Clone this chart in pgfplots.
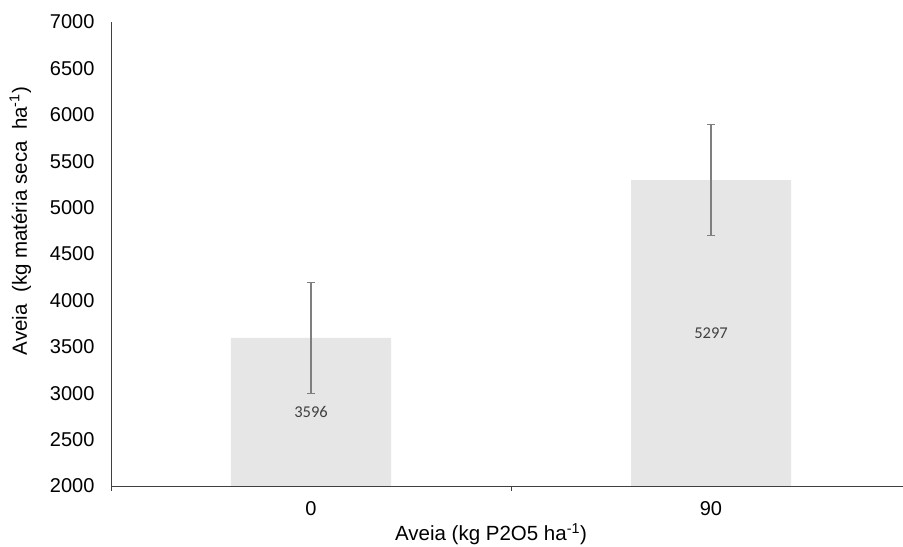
\documentclass[border=0pt]{standalone}
\usepackage{pgfplots}
\pgfplotsset{compat=1.18}
\usepackage{fontspec}
\setmainfont{Liberation Sans}
\newfontfamily\calibri{Carlito}
\definecolor{barfill}{HTML}{E6E6E6}
\definecolor{errc}{HTML}{7F7F7F}
\definecolor{axc}{HTML}{404040}
\definecolor{lblc}{HTML}{404040}
\begin{document}
\begin{tikzpicture}
\begin{axis}[
  name=ax,
  scale only axis,
  width=792pt, height=464pt,
  xmin=-0.5, xmax=1.48,
  ymin=2000, ymax=7000,
  ytick={2000,2500,...,7000},
  xtick={0,1}, xticklabels={0,90},
  minor xtick={-0.5,0.5},
  major tick length=0pt,
  minor tick length=5pt,
  tick align=outside,
  tick pos=left,
  axis lines*=left,
  axis line style={axc, line width=0.9pt},
  every minor tick/.style={axc, line width=0.9pt},
  /pgf/number format/assume math mode=true,
  /pgf/number format/1000 sep={},
  ticklabel style={font=\fontsize{20}{23}\selectfont, text=black},
  yticklabel style={xshift=-13pt},
  xticklabel style={yshift=-12pt},
  xlabel={Aveia (kg P2O5 ha\textsuperscript{-1})},
  ylabel={Aveia\ \ (kg matéria seca\ \ ha\textsuperscript{-1})},
  label style={font=\fontsize{20.5}{23}\selectfont},
  xlabel style={yshift=-1pt, xshift=-16pt},
  ylabel style={at={(ticklabel cs:0.571)}, yshift=12pt},
  clip=true,
]
\addplot[ybar, bar width=0.4, fill=barfill, draw=none,
  error bars/.cd, y dir=both, y explicit,
  error bar style={errc, line width=1.2pt},
  error mark options={errc, line width=1.2pt, rotate=90, mark size=4pt}]
  coordinates {(0,3596) +- (0,600) (1,5297) +- (0,600)};
\addplot[draw=none, fill=none, mark=none,
  point meta=explicit symbolic,
  nodes near coords,
  nodes near coords style={anchor=center, font=\calibri\fontsize{16.5}{19}\selectfont, text=lblc}]
  coordinates {(0,2798)[3596] (1,3648)[5297]};
\end{axis}
\pgfresetboundingbox
\path ([shift={(-111pt,-61pt)}]ax.south west) rectangle ([shift={(0pt,22pt)}]ax.north east);
\end{tikzpicture}
\end{document}
